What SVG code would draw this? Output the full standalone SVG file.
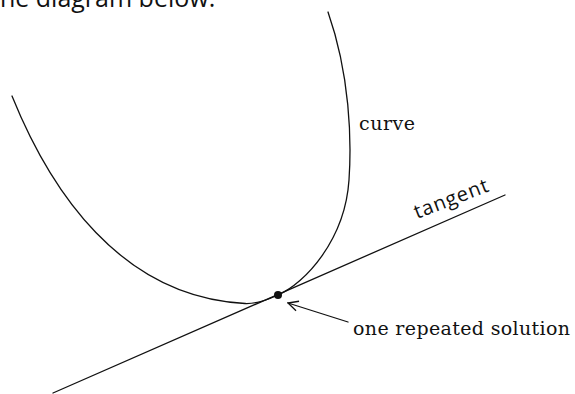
<svg xmlns="http://www.w3.org/2000/svg" width="575" height="394" viewBox="0 0 575 394">
<style>
.ln{fill:none;stroke:#111;stroke-width:1.3;stroke-linecap:round}
.lbl{font-family:"DejaVu Serif","Liberation Serif",serif;font-size:19px;fill:#111}
.sans{font-family:"Open Sans","Liberation Sans",sans-serif;font-size:20px;fill:#111}
.top{font-family:"Open Sans","Liberation Sans",sans-serif;font-size:25px;fill:#111}
</style>
<defs>
<marker id="ah" markerWidth="12" markerHeight="12" refX="11" refY="6" orient="auto" markerUnits="userSpaceOnUse">
<path d="M1,1 L11,6 L1,11" fill="none" stroke="#111" stroke-width="1.3"/>
</marker>
</defs>
<rect width="575" height="394" fill="#fff"/>
<text class="top" x="-9" y="7">the diagram below.</text>
<g id="curve">
<path class="ln" d="M12,96 C50,190 120,297 245,303.5 C258,303.9 266,300 278,295 C305,283.3 345,240 349,180 C351.7,140 350,75 328,12"/>
<text class="lbl" x="359" y="130" textLength="56">curve</text>
</g>
<g id="tangent">
<path class="ln" d="M53,393 L505,195"/>
<text class="sans" x="417" y="219" transform="rotate(-21 417 219)" textLength="78">tangent</text>
</g>
<g id="point">
<circle cx="278" cy="295" r="4" fill="#111"/>
<text class="lbl" x="353" y="335" textLength="217">one repeated solution</text>
</g>
<g id="connectors">
<path class="ln" d="M348,322 L288,303" marker-end="url(#ah)"/>
</g>
</svg>
